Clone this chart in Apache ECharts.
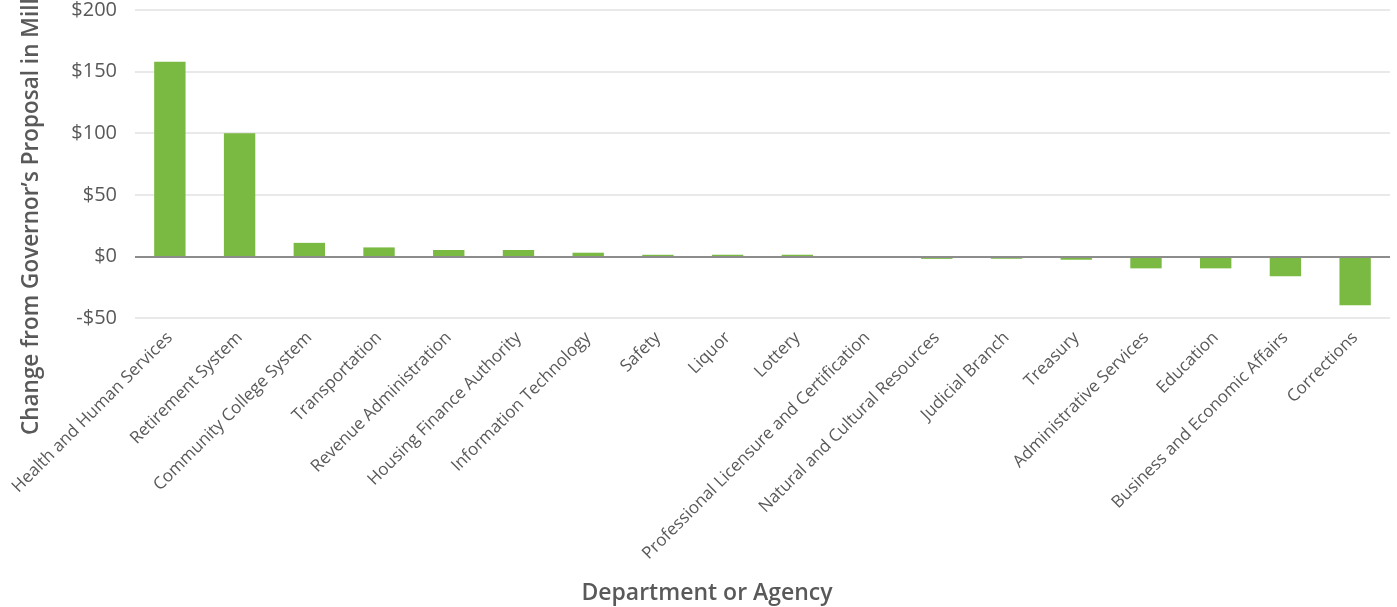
<!DOCTYPE html>
<html>
<head>
<meta charset="utf-8">
<script src="https://cdn.jsdelivr.net/npm/echarts@6/dist/echarts.min.js"></script>
<style>
  html, body { margin: 0; padding: 0; background: #fff; }
  #chart { width: 1397px; height: 607px; }
</style>
</head>
<body>
<div id="chart"></div>
<script>
// departments, in the order shown
const departments = [
    "Health and Human Services", "Retirement System", "Community College System",
    "Transportation", "Revenue Administration", "Housing Finance Authority",
    "Information Technology", "Safety", "Liquor", "Lottery",
    "Professional Licensure and Certification", "Natural and Cultural Resources",
    "Judicial Branch", "Treasury", "Administrative Services", "Education",
    "Business and Economic Affairs", "Corrections"
];

// change in millions of dollars
const changes = [158, 100, 11, 7.3, 5.2, 5.2, 3, 1.3, 1.3, 1.3, 0.2, -2, -2, -2.7, -9.7, -9.7, -16.2, -39.7];

const yTicks = { min: -50, max: 200, step: 50 };

const textColor = "#595959";
const font = "'Open Sans', sans-serif";

let chart = echarts.init(document.querySelector("#chart"));

let option = {
    animation: false,
    grid: { left: 135, right: 7, top: 10, bottom: 289 },
    xAxis: {
        type: "category",
        data: departments,
        axisLine: { show: false, onZero: false },
        axisTick: { show: false },
        axisLabel: {
            interval: 0,
            rotate: 45,
            margin: 17,
            color: textColor,
            fontFamily: font,
            fontSize: 17
        }
    },
    yAxis: {
        type: "value",
        min: yTicks.min,
        max: yTicks.max,
        interval: yTicks.step,
        axisLine: { show: false },
        axisTick: { show: false },
        axisLabel: {
            margin: 18,
            color: textColor,
            fontFamily: font,
            fontSize: 20,
            formatter: v => (v < 0 ? "-$" + Math.abs(v) : "$" + v)
        },
        splitLine: { lineStyle: { color: "#e2e2e2", width: 1.5 } }
    },
    series: [{
        type: "bar",
        data: changes,
        barCategoryGap: "55%",
        itemStyle: { color: "#7aba42" },
        markLine: {
            silent: true,
            symbol: "none",
            label: { show: false },
            lineStyle: { color: "#8c8c8c", width: 2, type: "solid" },
            data: [{ yAxis: 0 }]
        }
    }],
    graphic: [
        {
            type: "text",
            x: 32,
            y: 435,
            rotation: Math.PI / 2,
            style: {
                text: "Change from Governor\u2019s Proposal in Millions",
                fill: textColor,
                font: "600 22.5px 'Open Sans', sans-serif",
                textAlign: "left",
                textVerticalAlign: "middle"
            }
        },
        {
            type: "text",
            x: 707,
            y: 593,
            style: {
                text: "Department or Agency",
                fill: textColor,
                font: "600 23px 'Open Sans', sans-serif",
                textAlign: "center",
                textVerticalAlign: "middle"
            }
        }
    ]
};

chart.setOption(option);
</script>
</body>
</html>
